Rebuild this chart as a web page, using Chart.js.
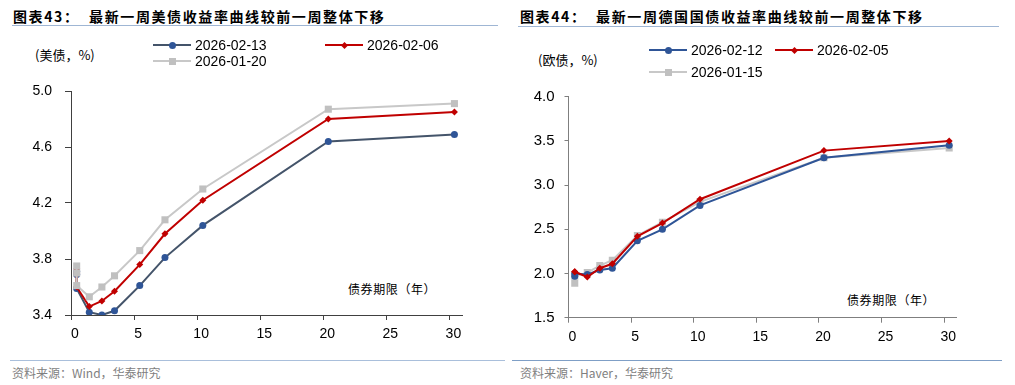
<!DOCTYPE html>
<html>
<head>
<meta charset="utf-8">
<script src="https://cdn.jsdelivr.net/npm/chart.js@4.4.1/dist/chart.umd.min.js"></script>
<style>
  body { margin: 0; width: 1015px; height: 385px; background: #fff; position: relative; overflow: hidden;
         font-family: "Liberation Sans", Arial, sans-serif; }
  canvas { position: absolute; }
  .t { position: absolute; white-space: nowrap; }
  .title { font: bold 14px "Noto Sans CJK SC"; letter-spacing: 1.6px; line-height: 20px; top: 6px; color: #000; }
  .rule { position: absolute; height: 1px; background: #9fb6d4; }
  .unit { font: 13px "Noto Sans CJK SC"; line-height: 18px; color: #000; }
  .xname { font: 12px "Noto Sans CJK SC"; letter-spacing: 0.6px; line-height: 18px; color: #000; }
  .src { font: 12px "Noto Sans CJK SC"; line-height: 16px; color: #7f7f7f; top: 365px; }
  .lg { position: absolute; height: 16px; font: 14px "Liberation Sans", Arial, sans-serif; line-height: 16px; color: #000; white-space: nowrap; }
  .lg .ln { position: absolute; left: 0; top: 7px; width: 38px; height: 2px; }
  .lg .mk { position: absolute; }
  .lg span.txt { position: absolute; left: 42px; top: 0; }
</style>
</head>
<body>

<div class="t title" style="left:13px">图表43：&nbsp;&nbsp;最新一周美债收益率曲线较前一周整体下移</div>
<div class="rule" style="left:12px;top:25px;width:486px"></div>
<div class="t title" style="left:520px">图表44：&nbsp;&nbsp;最新一周德国国债收益率曲线较前一周整体下移</div>
<div class="rule" style="left:518px;top:26px;width:481px"></div>

<div class="t unit" style="left:35px;top:46px">(美债，%)</div>
<div class="t unit" style="left:538px;top:51px">(欧债，%)</div>

<div class="t xname" style="left:348px;top:280px">债券期限（年）</div>
<div class="t xname" style="left:847px;top:291px">债券期限（年）</div>

<div class="rule" style="left:10px;top:360px;width:495px;background:#a9bfdb"></div>
<div class="rule" style="left:512px;top:360px;width:490px;background:#7f9fc6"></div>
<div class="t src" style="left:12px">资料来源：Wind，华泰研究</div>
<div class="t src" style="left:520px">资料来源：Haver，华泰研究</div>

<canvas id="usChart" width="505" height="350" style="left:0;top:0"></canvas>
<canvas id="deChart" width="510" height="350" style="left:505px;top:0"></canvas>

<script>
// 美债：期限位置（年）与三条曲线（%）
const usTenors = [0.45, 0.45, 0.45, 1.45, 2.45, 3.45, 5.45, 7.45, 10.45, 20.4, 30.4];
const us0213 = [3.71, 3.69, 3.59, 3.42, 3.40, 3.43, 3.61, 3.81, 4.04, 4.64, 4.69];
const us0206 = [3.73, 3.70, 3.60, 3.46, 3.50, 3.57, 3.76, 3.98, 4.22, 4.80, 4.85];
const us0120 = [3.75, 3.70, 3.61, 3.53, 3.60, 3.68, 3.86, 4.08, 4.30, 4.87, 4.91];
const usDates = ['2026-02-13', '2026-02-06', '2026-01-20'];
const usYTicks = [3.4, 3.8, 4.2, 4.6, 5.0];

// 德债
const deTenors = [0.5, 0.5, 1.5, 2.5, 3.5, 5.5, 7.5, 10.5, 20.4, 30.4];
const de0212 = [1.97, 2.00, 1.99, 2.04, 2.06, 2.37, 2.50, 2.77, 3.31, 3.45];
const de0205 = [2.02, 2.02, 1.96, 2.06, 2.11, 2.42, 2.57, 2.84, 3.39, 3.50];
const de0115 = [1.89, 1.97, 2.01, 2.09, 2.15, 2.43, 2.58, 2.81, 3.31, 3.42];
const deDates = ['2026-02-12', '2026-02-05', '2026-01-15'];
const deYTicks = [1.5, 2.0, 2.5, 3.0, 3.5, 4.0];

const xTicks = [0, 5, 10, 15, 20, 25, 30];

const styles = [
    { line: '#44546a', point: '#2f5597', pointStyle: 'circle', radius: 3.5 },
    { line: '#c00000', point: '#c00000', pointStyle: 'rectRot', radius: 3.5 },
    { line: '#c8c8c8', point: '#c0c0c0', pointStyle: 'rect', radius: 5 }
];

function toPoints(xs, ys) {
    return xs.map((x, i) => ({ x: x, y: ys[i] }));
}

function buildChart(id, xs, series, labels, yTicks, o) {
    const datasets = series.map((ys, i) => {
        const st = Object.assign({}, styles[i], o.lineColors ? { line: o.lineColors[i] } : {});
        return {
            label: labels[i],
            data: toPoints(xs, ys),
            borderColor: st.line,
            borderWidth: 2,
            backgroundColor: st.point,
            pointBackgroundColor: st.point,
            pointBorderColor: st.point,
            pointBorderWidth: 0,
            pointStyle: st.pointStyle,
            pointRadius: st.radius,
            tension: 0,
            order: o.order[i]
        };
    });

    return new Chart(document.getElementById(id), {
        type: 'line',
        data: { datasets: datasets },
        options: {
            responsive: false,
            animation: false,
            layout: { padding: o.padding },
            plugins: { legend: { display: false }, tooltip: { enabled: false } },
            scales: {
                x: {
                    type: 'linear',
                    min: 0,
                    max: 31,
                    afterBuildTicks: s => { s.ticks = xTicks.map(v => ({ value: v })); },
                    afterFit: s => { s.height = 30; },
                    border: { display: true, color: o.axisColor, width: 1 },
                    grid: { drawOnChartArea: false, drawTicks: true, tickLength: 5, color: o.axisColor },
                    ticks: { color: '#000', font: { family: '"Liberation Sans", Arial', size: 14 }, padding: 6, labelOffset: 4, maxRotation: 0 }
                },
                y: {
                    min: yTicks[0],
                    max: yTicks[yTicks.length - 1],
                    afterBuildTicks: s => { s.ticks = yTicks.map(v => ({ value: v })); },
                    afterFit: s => { s.width = 40; },
                    border: { display: true, color: o.axisColor, width: 1 },
                    grid: { drawOnChartArea: false, drawTicks: true, tickLength: o.yTick, color: o.axisColor },
                    ticks: { color: '#000', font: { family: '"Liberation Sans", Arial', size: o.yFont }, padding: o.yPad,
                             callback: v => v.toFixed(1) }
                }
            }
        }
    });
}

function buildLegend(labels, positions, lineColors) {
    labels.forEach((lab, i) => {
        const st = styles[i];
        const d = document.createElement('div');
        d.className = 'lg';
        d.style.left = positions[i][0] + 'px';
        d.style.top = positions[i][1] + 'px';
        const ln = document.createElement('div');
        ln.className = 'ln';
        ln.style.background = lineColors ? lineColors[i] : st.line;
        d.appendChild(ln);
        const mk = document.createElement('div');
        mk.className = 'mk';
        mk.style.background = st.point;
        if (st.pointStyle === 'circle') {
            Object.assign(mk.style, { width: '7px', height: '7px', left: '15.5px', top: '4.5px', borderRadius: '50%' });
        } else if (st.pointStyle === 'rectRot') {
            Object.assign(mk.style, { width: '5px', height: '5px', left: '16.5px', top: '5.5px', transform: 'rotate(45deg)' });
        } else {
            Object.assign(mk.style, { width: '7px', height: '7px', left: '15.5px', top: '4.5px' });
        }
        d.appendChild(mk);
        const tx = document.createElement('span');
        tx.className = 'txt';
        tx.textContent = lab;
        d.appendChild(tx);
        document.body.appendChild(d);
    });
}

buildChart('usChart', usTenors, [us0213, us0206, us0120], usDates, usYTicks, {
    padding: { left: 31, right: 43, top: 91, bottom: 5 },
    axisColor: '#404040', yTick: 6, yPad: 13, yFont: 14,
    order: [2, 1, 0]
});

const deLineColors = ['#2f5597', '#c00000', '#c8c8c8'];
buildChart('deChart', deTenors, [de0212, de0205, de0115], deDates, deYTicks, {
    padding: { left: 23.5, right: 58.3, top: 96.7, bottom: 2.3 },
    axisColor: '#7f7f7f', yTick: 4, yPad: 10, yFont: 15,
    order: [1, 0, 2], lineColors: deLineColors
});

buildLegend(usDates, [[153, 37], [325, 37], [153, 53]]);
buildLegend(deDates, [[649, 42], [775, 42], [649, 64]], deLineColors);
</script>
</body>
</html>
